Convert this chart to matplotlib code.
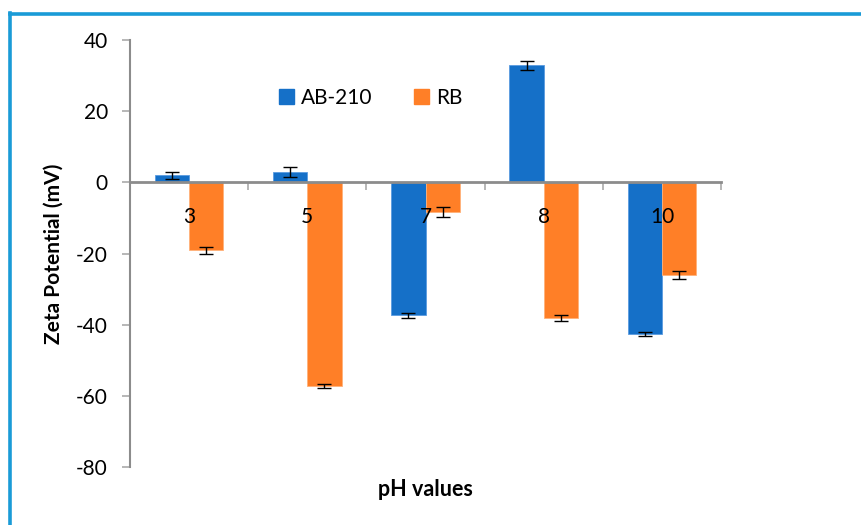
import matplotlib
matplotlib.use('Agg')
import matplotlib.pyplot as plt
from matplotlib.patches import Patch
from matplotlib.lines import Line2D
import numpy as np

# data
ph_values = ['3', '5', '7', '8', '10']
ab210 = [2.0, 2.8, -37.4, 32.9, -42.7]
ab210_err = [1.0, 1.4, 0.8, 1.3, 0.5]
rb = [-19.1, -57.3, -8.4, -38.2, -26.1]
rb_err = [1.0, 0.5, 1.4, 0.8, 1.2]

blue = '#1570c8'
orange = '#ff7f27'
grey = '#8c8c8c'

plt.rcParams['font.family'] = ['Lato', 'DejaVu Sans']
plt.rcParams['axes.unicode_minus'] = False

fig = plt.figure(figsize=(8.61, 5.25), dpi=100)
ax = fig.add_axes([130 / 861, 58 / 525, 591 / 861, 427 / 525])

x = np.arange(len(ph_values))
w = 0.29
err_kw = dict(ecolor='black', elinewidth=1.0, capsize=5, capthick=1.0)
ax.bar(x - w / 2, ab210, w, color=blue, edgecolor='#5a9be0', linewidth=0.6,
       yerr=ab210_err, error_kw=err_kw, label='AB-210')
ax.bar(x + w / 2, rb, w, color=orange, edgecolor='#ffb27a', linewidth=0.6,
       yerr=rb_err, error_kw=err_kw, label='RB')

ax.set_xlim(-0.5, len(ph_values) - 0.5)
ax.set_ylim(-80, 40)
ax.set_yticks([40, 20, 0, -20, -40, -60, -80])

# x axis sits at zero, labels at category centres, tick marks at boundaries
ax.spines['bottom'].set_position(('data', 0))
ax.spines['top'].set_visible(False)
ax.spines['right'].set_visible(False)
for s in ('left', 'bottom'):
    ax.spines[s].set_color(grey)
ax.spines['left'].set_linewidth(1.5)
ax.spines['bottom'].set_linewidth(2.0)

ax.set_xticks(x)
ax.set_xticklabels(ph_values)
ax.set_xticks(np.arange(len(ph_values) + 1) - 0.5, minor=True)
ax.tick_params(axis='x', which='major', length=0, pad=18, labelsize=15)
ax.tick_params(axis='x', which='minor', length=5.5, width=1.2, color='#aaaaaa', direction='out')
ax.tick_params(axis='y', length=6, width=1.2, color='#aaaaaa', pad=10, labelsize=15)

ax.set_ylabel('Zeta Potential (mV)', fontsize=15, fontweight='bold', labelpad=9)
fig.text(425 / 861, 1 - 490 / 525, 'pH values', fontsize=15.5, fontweight='bold',
         ha='center', va='center')

handles = [Patch(color=blue, label='AB-210'), Patch(color=orange, label='RB')]
fig.legend(handles=handles, loc='center left', bbox_to_anchor=(279 / 861, 1 - 98 / 525),
           ncol=2, frameon=False, fontsize=15, handlelength=0.7, handleheight=0.7,
           handletextpad=0.35, columnspacing=2.0, borderpad=0, borderaxespad=0)

# blue frame along the top and left edge
frame = '#1a9bd7'
fig.add_artist(Line2D([9.5 / 861, 1], [1 - 13.5 / 525, 1 - 13.5 / 525],
                      color=frame, linewidth=2.6, transform=fig.transFigure))
fig.add_artist(Line2D([9.5 / 861, 9.5 / 861], [0, 1 - 12.5 / 525],
                      color=frame, linewidth=2.6, transform=fig.transFigure))

fig.savefig('out.png', dpi=100)
plt.close(fig)
